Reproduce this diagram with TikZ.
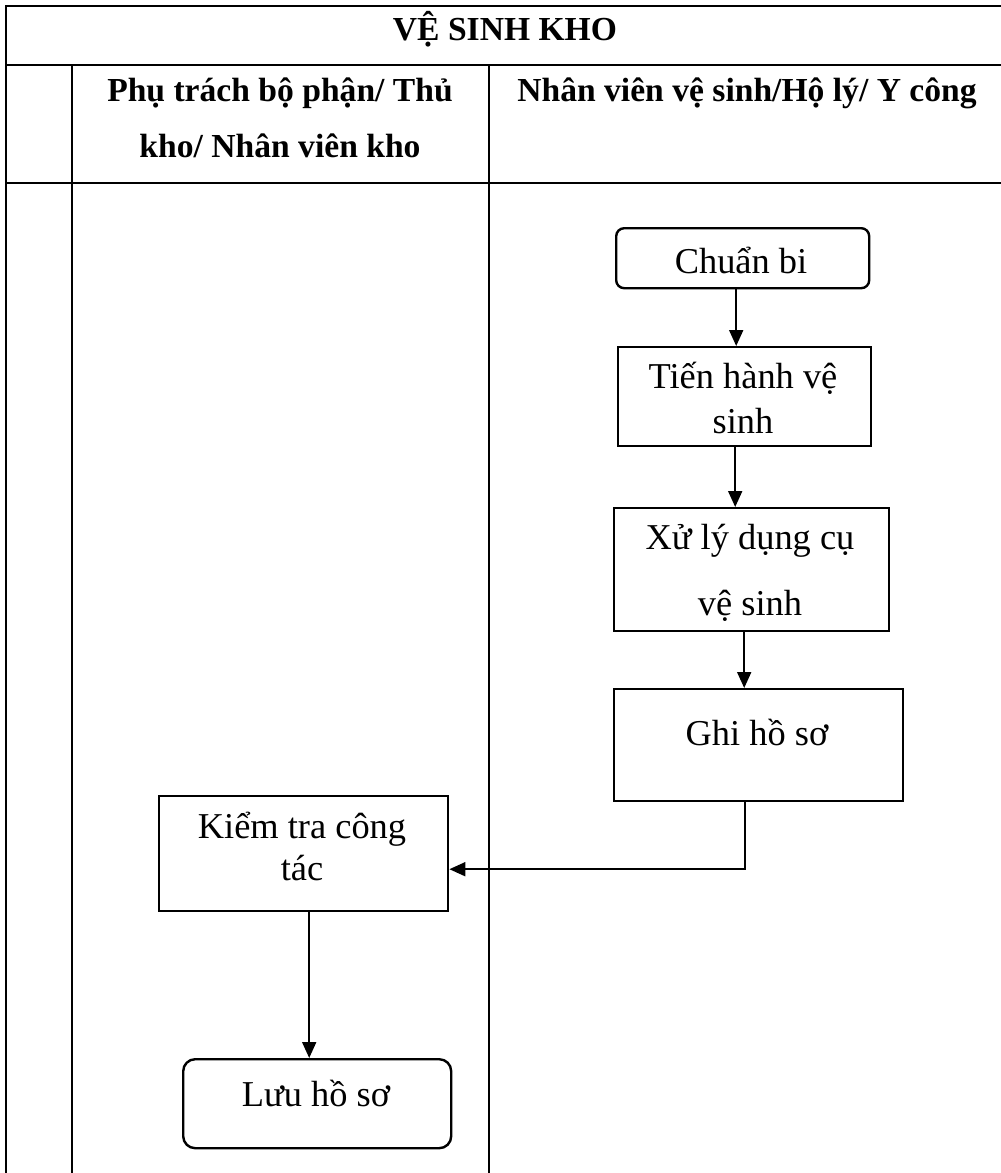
\documentclass[tikz,border=0pt]{standalone}
\usepackage{fontspec}
\setmainfont{Liberation Serif}
\usetikzlibrary{arrows.meta}
\begin{document}
\begin{tikzpicture}[x=1pt,y=-1pt,
  tbl/.style={line width=1.5pt, black},
  boxst/.style={draw, line width=2.4pt, rectangle, inner sep=0pt, anchor=north west},
  rboxst/.style={boxst, rounded corners=10pt},
  arr/.style={line width=1.9pt, -{Triangle[length=16pt,width=14pt]}},
  txt/.style={inner sep=0pt, anchor=base, font=\fontsize{36.4}{40}\selectfont},
  hdr/.style={inner sep=0pt, anchor=base, font=\fontsize{33.6}{38}\selectfont\bfseries}
]
\useasboundingbox[fill=white] (0,0) rectangle (1001,1173);

% table
\draw[tbl] (1001,6) -- (6,6) -- (6,1173);
\draw[tbl] (6,65) -- (1001,65);
\draw[tbl] (6,183) -- (1001,183);
\draw[tbl] (72,65) -- (72,1173);
\draw[tbl] (489,65) -- (489,1173);

\node[hdr] (title) at (505,40) {VỆ SINH KHO};
\node[hdr] (h1a) at (280,101) {Phụ trách bộ phận/ Thủ};
\node[hdr] (h1b) at (280,157) {kho/ Nhân viên kho};
\node[hdr] (h2) at (747,101) {Nhân viên vệ sinh/Hộ lý/ Y công};

% boxes
\node[rboxst, rounded corners=8pt, minimum width=253pt, minimum height=60pt] (chuan) at (615,227) {};
\node[boxst, minimum width=253pt, minimum height=99pt] (tien) at (617,346) {};
\node[boxst, minimum width=275pt, minimum height=123pt] (xu) at (613,507) {};
\node[boxst, minimum width=289pt, minimum height=112pt] (ghi) at (613,688) {};
\node[boxst, minimum width=289pt, minimum height=115pt] (kiem) at (158,795) {};
\node[rboxst, rounded corners=12pt, minimum width=268pt, minimum height=89pt] (luu) at (182,1058) {};

% texts
\node[txt] (tchuan) at (741,273) {Chuẩn bi};
\node[txt] (ttien1) at (743,388) {Tiến hành vệ};
\node[txt] (ttien2) at (743,433) {sinh};
\node[txt] (txu1) at (750,549) {Xử lý dụng cụ};
\node[txt] (txu2) at (750,615) {vệ sinh};
\node[txt] (tghi) at (757,745) {Ghi hồ sơ};
\node[txt] (tkiem1) at (302,838) {Kiểm tra công};
\node[txt] (tkiem2) at (302,880) {tác};
\node[txt] (tluu) at (316,1106) {Lưu hồ sơ};

% connectors
\draw[arr] ([xshift=-6.5pt]chuan.south) -- ([xshift=-6.5pt]chuan.south |- tien.north);
\draw[arr] ([xshift=-9.5pt]tien.south) -- ([xshift=-9.5pt]tien.south |- xu.north);
\draw[arr] ([xshift=-7.5pt]xu.south) -- ([xshift=-7.5pt]xu.south |- ghi.north);
\draw[arr] ([xshift=-13.5pt]ghi.south) |- ([yshift=-15.5pt]kiem.east);
\draw[arr] ([xshift=5.5pt]kiem.south) -- ([xshift=5.5pt]kiem.south |- luu.north);
\end{tikzpicture}
\end{document}
